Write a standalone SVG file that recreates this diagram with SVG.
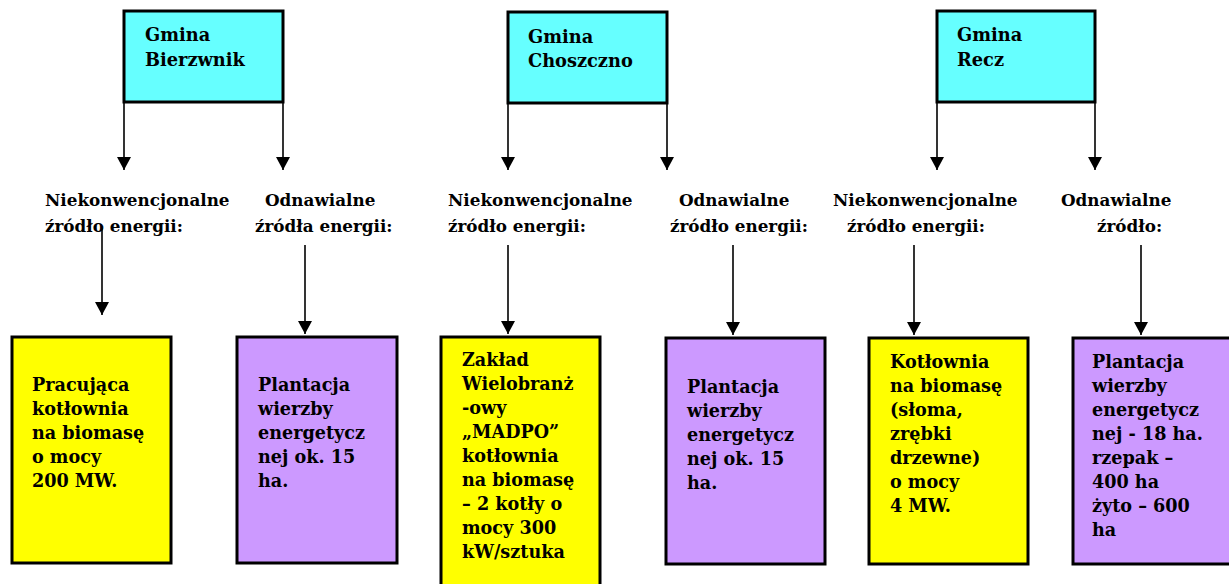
<svg xmlns="http://www.w3.org/2000/svg" width="1229" height="584" viewBox="0 0 1229 584">
<style>
text{font-family:"DejaVu Serif","Liberation Serif",serif;font-weight:bold;fill:#000}
.lbl{font-size:16.8px}
.bx{font-size:17.6px}
.hd{font-size:17.8px}
.top{fill:#66FFFF;stroke:#000;stroke-width:3}
.yel{fill:#FFFF00;stroke:#000;stroke-width:3}
.pur{fill:#CC99FF;stroke:#000;stroke-width:3}
.con line{stroke:#000;stroke-width:1.6;marker-end:url(#ah)}
</style>
<defs>
<marker id="ah" markerUnits="userSpaceOnUse" markerWidth="13" markerHeight="14" viewBox="0 0 13 14" refX="13" refY="7" orient="auto">
<path d="M0,0 L13,7 L0,14 z" fill="#000"/>
</marker>
</defs>
<rect width="1229" height="584" fill="#fff"/>

<g id="gmina-bierzwnik">
<rect class="top" x="124" y="11" width="159" height="91"/>
<text class="hd" x="145" y="41">Gmina</text>
<text class="hd" x="145" y="66">Bierzwnik</text>
</g>
<g id="gmina-choszczno">
<rect class="top" x="508" y="12" width="159" height="91"/>
<text class="hd" x="528" y="43">Gmina</text>
<text class="hd" x="528" y="67">Choszczno</text>
</g>
<g id="gmina-recz">
<rect class="top" x="937" y="11" width="158" height="91"/>
<text class="hd" x="957" y="41">Gmina</text>
<text class="hd" x="957" y="66">Recz</text>
</g>

<g id="label-b-niekonw">
<text class="lbl" x="45" y="206">Niekonwencjonalne</text>
<text class="lbl" x="45" y="232">źródło energii:</text>
</g>
<g id="label-b-odnaw">
<text class="lbl" x="265" y="206">Odnawialne</text>
<text class="lbl" x="255" y="232">źródła energii:</text>
</g>
<g id="label-c-niekonw">
<text class="lbl" x="448" y="206">Niekonwencjonalne</text>
<text class="lbl" x="448" y="232">źródło energii:</text>
</g>
<g id="label-c-odnaw">
<text class="lbl" x="679" y="206">Odnawialne</text>
<text class="lbl" x="670" y="232">źródło energii:</text>
</g>
<g id="label-r-niekonw">
<text class="lbl" x="833" y="206">Niekonwencjonalne</text>
<text class="lbl" x="847" y="232">źródło energii:</text>
</g>
<g id="label-r-odnaw">
<text class="lbl" x="1061" y="206">Odnawialne</text>
<text class="lbl" x="1097" y="232">źródło:</text>
</g>

<g id="box-b-kotlownia">
<rect class="yel" x="12" y="337" width="159" height="226"/>
<text class="bx" x="32" y="391">Pracująca</text>
<text class="bx" x="32" y="415">kotłownia</text>
<text class="bx" x="32" y="439">na biomasę</text>
<text class="bx" x="32" y="463">o mocy</text>
<text class="bx" x="32" y="487">200 MW.</text>
</g>
<g id="box-b-plantacja">
<rect class="pur" x="237" y="337" width="160" height="226"/>
<text class="bx" x="258" y="391">Plantacja</text>
<text class="bx" x="258" y="415">wierzby</text>
<text class="bx" x="258" y="439">energetycz</text>
<text class="bx" x="258" y="463">nej ok. 15</text>
<text class="bx" x="258" y="487">ha.</text>
</g>
<g id="box-c-madpo">
<rect class="yel" x="441" y="337" width="159" height="270"/>
<text class="bx" x="462" y="366">Zakład</text>
<text class="bx" x="462" y="390">Wielobranż</text>
<text class="bx" x="462" y="414">-owy</text>
<text class="bx" x="462" y="438">„MADPO”</text>
<text class="bx" x="462" y="462">kotłownia</text>
<text class="bx" x="462" y="486">na biomasę</text>
<text class="bx" x="462" y="510">– 2 kotły o</text>
<text class="bx" x="462" y="534">mocy 300</text>
<text class="bx" x="462" y="558">kW/sztuka</text>
</g>
<g id="box-c-plantacja">
<rect class="pur" x="666" y="338" width="159" height="226"/>
<text class="bx" x="687" y="393">Plantacja</text>
<text class="bx" x="687" y="417">wierzby</text>
<text class="bx" x="687" y="441">energetycz</text>
<text class="bx" x="687" y="465">nej ok. 15</text>
<text class="bx" x="687" y="489">ha.</text>
</g>
<g id="box-r-kotlownia">
<rect class="yel" x="869" y="338" width="159" height="226"/>
<text class="bx" x="890" y="368">Kotłownia</text>
<text class="bx" x="890" y="392">na biomasę</text>
<text class="bx" x="890" y="416">(słoma,</text>
<text class="bx" x="890" y="440">zrębki</text>
<text class="bx" x="890" y="464">drzewne)</text>
<text class="bx" x="890" y="488">o mocy</text>
<text class="bx" x="890" y="512">4 MW.</text>
</g>
<g id="box-r-plantacja">
<rect class="pur" x="1073" y="338" width="158" height="226"/>
<text class="bx" x="1092" y="368">Plantacja</text>
<text class="bx" x="1092" y="392">wierzby</text>
<text class="bx" x="1092" y="416">energetycz</text>
<text class="bx" x="1092" y="440">nej - 18 ha.</text>
<text class="bx" x="1092" y="464">rzepak –</text>
<text class="bx" x="1092" y="488">400 ha</text>
<text class="bx" x="1092" y="512">żyto – 600</text>
<text class="bx" x="1092" y="536">ha</text>
</g>

<g id="connectors" class="con">
<line x1="124" y1="102" x2="124" y2="170"/>
<line x1="283" y1="102" x2="283" y2="170"/>
<line x1="508" y1="103" x2="508" y2="170"/>
<line x1="667" y1="103" x2="667" y2="170"/>
<line x1="937" y1="102" x2="937" y2="170"/>
<line x1="1095" y1="102" x2="1095" y2="170"/>
<line x1="102" y1="228" x2="102" y2="315"/>
<line x1="305" y1="245" x2="305" y2="334"/>
<line x1="508" y1="245" x2="508" y2="334"/>
<line x1="733" y1="245" x2="733" y2="335"/>
<line x1="914" y1="245" x2="914" y2="335"/>
<line x1="1141" y1="245" x2="1141" y2="335"/>
</g>
</svg>
